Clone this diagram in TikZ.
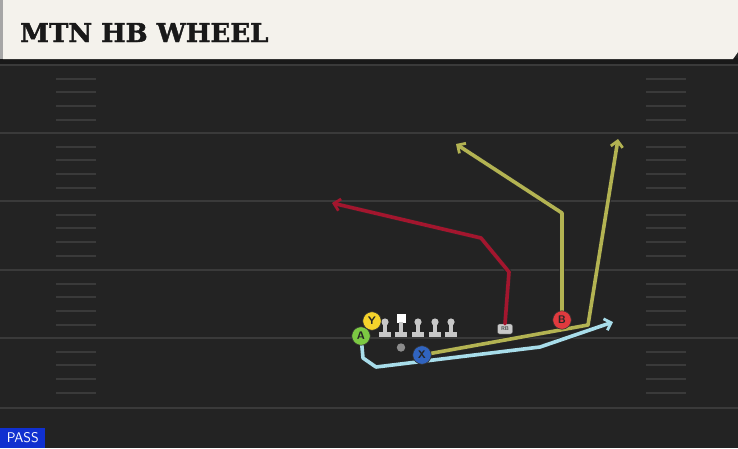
\documentclass[tikz,border=0pt]{standalone}
\usepackage{fontspec}
\setmainfont{DejaVu Sans}
\newfontfamily\titlefont[BoldFeatures={FakeBold=1.6}]{DejaVu Serif}
\usetikzlibrary{arrows.meta,calc}
\definecolor{fieldbg}{HTML}{232323}
\definecolor{yardln}{HTML}{3A3A3A}
\definecolor{hdrbg}{HTML}{F4F2EC}
\definecolor{routered}{HTML}{A3162E}
\definecolor{routeolive}{HTML}{B3B352}
\definecolor{routeblue}{HTML}{A8DDEA}
\definecolor{plgreen}{HTML}{7CC943}
\definecolor{plyellow}{HTML}{F5D32B}
\definecolor{plblue}{HTML}{3064C0}
\definecolor{plred}{HTML}{E03A3E}
\definecolor{lineman}{HTML}{C8C8C8}
\definecolor{passblue}{HTML}{1030D0}
\tikzset{
  player/.style={circle, draw=black!80, line width=0.6pt, minimum size=18.5pt, inner sep=0pt, font=\sffamily\bfseries\fontsize{11}{11}\selectfont, text=black!85},
  route/.style={line width=3.6pt, line join=round, line cap=round},
  routeedge/.style={line width=5.2pt, line join=round, draw=black!85},
  arr/.style={-{Straight Barb[length=6pt,width=12pt,line width=2.8pt]}},
  hash/.style={draw=yardln, line width=1.4pt},
  yard/.style={draw=yardln, line width=2pt}
}
\begin{document}
\begin{tikzpicture}[x=1pt,y=-1pt]
\useasboundingbox (0,0) rectangle (738,448);
% field
\fill[fieldbg] (0,0) rectangle (738,448);
\fill[black!90] (0,58) rectangle (738,64);
% yard lines and hashes
\foreach \Y in {65,133,201,270,338} {
  \draw[yard] (0,\Y) -- (738,\Y);
  \foreach \d in {14,27,41,55} {
    \draw[hash] (56,\Y+\d) -- (96,\Y+\d);
    \draw[hash] (646,\Y+\d) -- (686,\Y+\d);
  }
}
\draw[yard] (0,408) -- (738,408);
% header
\fill[hdrbg] (3,0) -- (738,0) -- (738,52) -- (733,59) -- (3,59) -- cycle;
\fill[black!35] (0,0) rectangle (3,59);
\node[anchor=base west, inner sep=0pt, font=\titlefont\bfseries\fontsize{26}{26}\selectfont, text=black!90] (title) at (20,42) {MTN HB WHEEL};
% PASS
\node[anchor=south west, fill=passblue, text=white, inner sep=0pt, font=\sffamily\fontsize{14}{14}\selectfont, minimum height=20pt, minimum width=45pt] (pass) at (0,448) {PASS};
% linemen
\foreach \x/\n in {385/l1,418/l3,435/l4,451/l5} {
  \fill[lineman] (\x,322) circle (3.6);
  \fill[lineman] (\x-1.6,322) rectangle (\x+1.6,333);
  \fill[lineman] (\x-6,332) rectangle (\x+6,336.5);
  \coordinate (\n) at (\x,328);
}
\fill[white] (396.5,313.5) rectangle (405.5,322.5);
\fill[lineman] (399.4,322) rectangle (402.6,333);
\fill[lineman] (395,332) rectangle (407,336.5);
\coordinate (l2) at (401,328);
% QB dot
\fill[black!45] (401,347.5) circle (4.2);
\coordinate (qb) at (401,347.5);
% RB
\node[fill=lineman, draw=black!70, line width=0.4pt, rounded corners=2pt, minimum width=15pt, minimum height=10pt, inner sep=0pt, font=\sffamily\bfseries\fontsize{5.5}{5.5}\selectfont, text=black!70] (rb) at (505,329) {RB};
% route coordinates
\coordinate (r1) at (509,272);
\coordinate (r2) at (481,238);
\coordinate (r3) at (332,203);
\coordinate (b1) at (562,213);
\coordinate (b2) at (456,144);
\coordinate (x1) at (588,325);
\coordinate (x2) at (618,139);
\coordinate (a1) at (363,358);
\coordinate (a2) at (376,367);
\coordinate (a3) at (540,347);
\coordinate (a4) at (613,322);
% players positions (nodes drawn after routes)
\coordinate (pA) at (361,336);
\coordinate (pY) at (372,321);
\coordinate (pX) at (422,355);
\coordinate (pB) at (562,320);
% routes: outline then colour
\draw[routeedge] (rb.north) -- (r1) -- (r2) -- ($(r3)!0.03!(r2)$);
\draw[route, routered, arr] (rb.north) -- (r1) -- (r2) -- (r3);
\draw[routeedge] (pB) -- (b1) -- ($(b2)!0.04!(b1)$);
\draw[route, routeolive, arr] (pB) -- (b1) -- (b2);
\draw[routeedge] (pA) -- (a1) -- (a2) -- (a3) -- ($(a4)!0.06!(a3)$);
\draw[route, routeblue, arr] (pA) -- (a1) -- (a2) -- (a3) -- (a4);
\draw[routeedge] (pX) -- (x1) -- ($(x2)!0.03!(x1)$);
\draw[route, routeolive, arr] (pX) -- (x1) -- (x2);
% players
\node[player, fill=plyellow] (Y) at (pY) {Y};
\node[player, fill=plgreen] (A) at (pA) {A};
\node[player, fill=plblue] (X) at (pX) {X};
\node[player, fill=plred] (B) at (pB) {B};
\end{tikzpicture}
\end{document}
